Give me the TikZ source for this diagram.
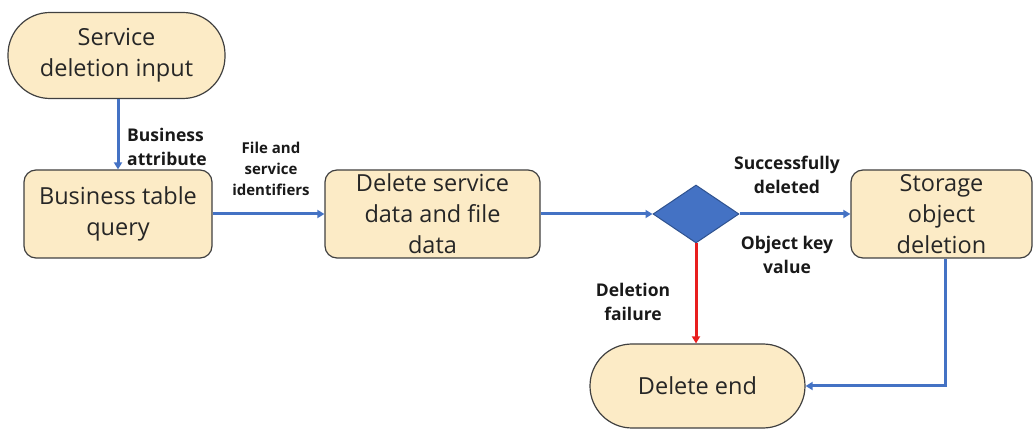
\documentclass[tikz,border=0pt]{standalone}
\usepackage{fontspec}
\setmainfont{Open Sans}
\usetikzlibrary{shapes.geometric,arrows.meta}
\definecolor{boxfill}{HTML}{FCEBC6}
\definecolor{boxline}{HTML}{404040}
\definecolor{flowblue}{HTML}{4472C4}
\definecolor{diafill}{HTML}{4472C4}
\definecolor{dialine}{HTML}{2F528F}
\definecolor{failred}{HTML}{E81E1E}
\tikzset{
  x=1pt, y=-1pt,
  procbox/.style={draw=boxline, fill=boxfill, line width=1.2pt, rounded corners=12pt,
    align=center, inner sep=0pt, font=\fontsize{23.5}{31}\selectfont, text=black!85},
  termbox/.style={procbox, rounded corners=42pt},
  decision/.style={diamond, draw=dialine, fill=diafill, line width=1pt, inner sep=0pt,
    minimum width=86pt, minimum height=58pt, aspect=1.48},
  flow/.style={draw=flowblue, line width=3pt, -{Triangle[length=7pt,width=8pt]}},
  failflow/.style={flow, draw=failred},
  lbl/.style={font=\fontsize{17.5}{24}\selectfont\bfseries, align=center, text=black!90}
}
\begin{document}
\begin{tikzpicture}
\useasboundingbox (0,0) rectangle (1034,430);
% nodes
\node[termbox, minimum width=217pt, minimum height=86pt] (start) at (116.5,55.5) {Service\\deletion input};
\node[procbox, minimum width=188pt, minimum height=88pt] (query) at (118,214) {Business table\\query};
\node[procbox, minimum width=215pt, minimum height=88pt] (del) at (432.5,214) {Delete service\\data and file\\data};
\node[decision] (check) at (696,214) {};
\node[procbox, minimum width=181pt, minimum height=88pt] (store) at (941.5,214) {Storage\\object\\deletion};
\node[termbox, minimum width=215pt, minimum height=84pt] (finish) at (697.5,386) {Delete end};
% connectors
\draw[flow] (start.south -| query.north) -- (query.north);
\draw[flow] (query) -- (del);
\draw[flow] (del) -- (check);
\draw[flow] (check) -- (store);
\draw[failflow] (check.south) -- (check.south |- finish.north);
\draw[flow] ([xshift=4pt]store.south) |- (finish.east);
% labels
\node[lbl, align=left] (lattr) at (167,147) {Business\\attribute};
\node[lbl, font=\fontsize{15}{21}\selectfont\bfseries] (lid) at (271,169) {File and\\service\\identifiers};
\node[lbl] (lok) at (787,175) {Successfully\\deleted};
\node[lbl] (lkey) at (787,255) {Object key\\value};
\node[lbl] (lfail) at (633,302) {Deletion\\failure};
\end{tikzpicture}
\end{document}
